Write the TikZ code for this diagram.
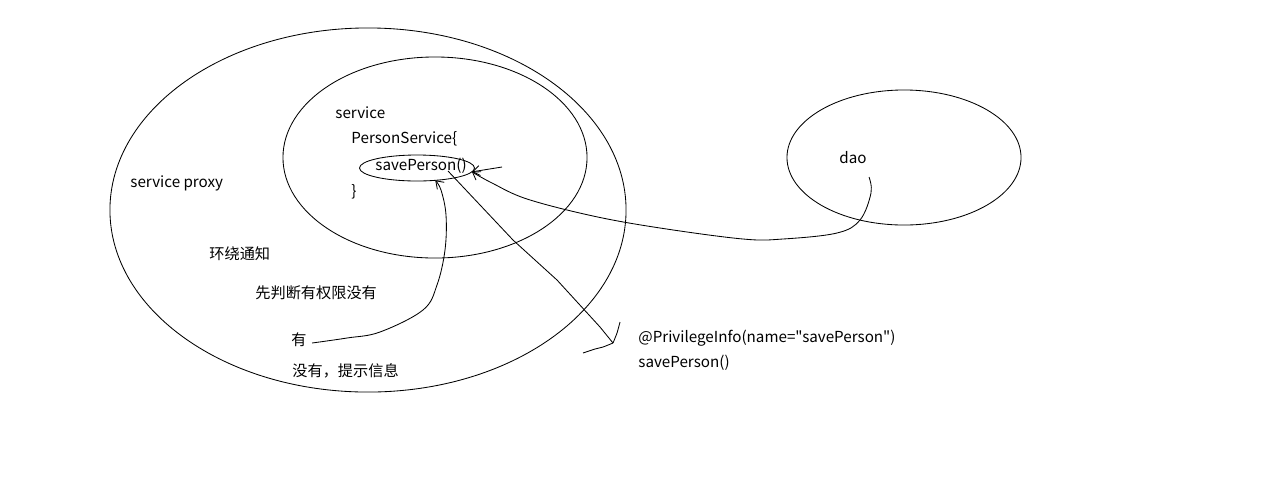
\documentclass[tikz,border=0pt]{standalone}
\usepackage{fontspec}
\setmainfont{Noto Sans CJK SC}[Ligatures=TeXOff]
\usetikzlibrary{shapes.geometric,arrows.meta}

\begin{document}
\begin{tikzpicture}[x=0.025cm, y=-0.025cm, line width=0.6pt,
        every node/.style={font=\fontsize{10.8}{12}\selectfont},
        lbl/.style={anchor=west, inner sep=0pt},
        oval/.style={ellipse, draw, inner sep=0pt, outer sep=0pt},
        arr/.style={-{Straight Barb[length=5pt,width=7pt]}}
      ]
        \useasboundingbox (0,0) rectangle (1274,502);
        % Ellipses
        \node[oval, minimum width=12.9cm, minimum height=9.1cm] (proxy) at (368,210) {};
        \node[oval, minimum width=7.6cm, minimum height=5.025cm] (svc) at (435,157.5) {};
        \node[oval, minimum width=2.875cm, minimum height=0.65cm] (save) at (417,168) {};
        \node[oval, minimum width=5.85cm, minimum height=3.375cm] (daoOval) at (904,157.5) {};
        % Texts
        \node[lbl] (svcLbl) at (335,113) {service};
        \node[lbl] (psLbl) at (351,139) {PersonService\{};
        \node[lbl] (saveTxt) at (375,166) {savePerson()};
        \node[lbl] (brace) at (351,192) {\}};
        \node[lbl] (proxyLbl) at (130,183) {service proxy};
        \node[lbl] (around) at (209,254) {环绕通知};
        \node[lbl] (check) at (255,293) {先判断有权限没有};
        \node[lbl] (yes) at (291,340) {有};
        \node[lbl] (no) at (292,371) {没有，提示信息};
        \node[lbl] (daoLbl) at (839,158) {dao};
        \node[lbl] (annot) at (638,338) {@PrivilegeInfo(name="savePerson")};
        \node[lbl] (annotSave) at (638,363) {savePerson()};
        % Free ends
        \coordinate (callTail) at (502,167);
        \coordinate (daoStart) at ([shift={(2,19)}]daoLbl.east);
        \coordinate (yesStart) at ([shift={(5,3)}]yes.east);
        \coordinate (diagStart) at ([shift={(31,3)}]save.center);
        \coordinate (privTip) at ([shift={(-25,5)}]annot.west);
        % Connectors
        \draw[arr] (callTail) -- (save.-4);
        \draw[arr] plot[smooth, tension=0.6] coordinates {(daoStart) (871,193) (860,220)
          (837,233) (783,239) (743,239) (660,228) (593,216) (527,199) (492,183) (save.-4)};
        \draw[arr] plot[smooth, tension=0.6] coordinates {(yesStart) (347,338) (380,332)
          (423,310) (437,285) (445,250) (446,215) (441,190) (save.-34)};
        \draw (diagStart) -- (513,240) -- (557,280) -- (600,327) -- (privTip);
        \draw plot[smooth] coordinates {(620,322) (617,333) (privTip)};
        \draw plot[smooth] coordinates {(583,353) (595,349) (603,347) (privTip)};
      \end{tikzpicture}
\end{document}
